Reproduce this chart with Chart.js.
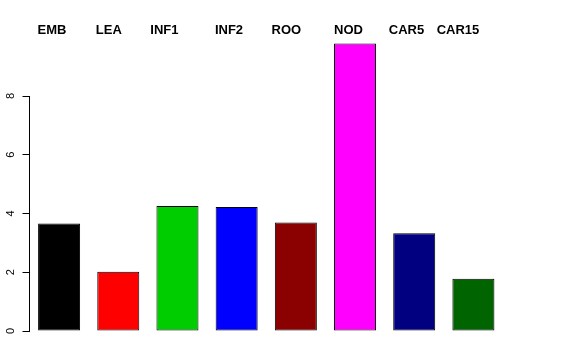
<!DOCTYPE html>
<html>
<head>
<meta charset="utf-8">
<script src="https://cdn.jsdelivr.net/npm/chart.js@4"></script>
<style>
  html, body { margin: 0; padding: 0; background: #fff; }
  #wrap { width: 576px; height: 360px; }
</style>
</head>
<body>
<div id="wrap"><canvas id="grafico"></canvas></div>
<script>
const categorias = ['EMB', 'LEA', 'INF1', 'INF2', 'ROO', 'NOD', 'CAR5', 'CAR15']
const valores = [3.66, 2.02, 4.26, 4.22, 3.69, 9.79, 3.33, 1.78]
const cores = ['#000000', '#FF0000', '#00CD00', '#0000FF', '#8B0000', '#FF00FF', '#000080', '#006400']
const ticksY = [0, 2, 4, 6, 8]
// where the names sit along the x axis, in category units
const posNomes = [-0.12, 0.84, 1.78, 2.87, 3.84, 4.89, 5.87, 6.74]

// axis line only from 0 to 8, like R does
const linhaEixo = {
  id: 'linhaEixo',
  afterDraw(chart) {
    const y = chart.scales.y
    const x = chart.chartArea.left
    const ctx = chart.ctx
    ctx.save()
    ctx.strokeStyle = '#000'
    ctx.lineWidth = 1
    ctx.beginPath()
    ctx.moveTo(x, y.getPixelForValue(ticksY[0]))
    ctx.lineTo(x, y.getPixelForValue(ticksY[ticksY.length - 1]))
    ctx.stroke()
    ctx.restore()
  }
}

const grafico = new Chart(document.getElementById('grafico'), {
  type: 'bar',
  data: {
    labels: categorias,
    datasets: [{
      data: valores,
      backgroundColor: cores,
      borderColor: '#000',
      borderWidth: 1,
      borderSkipped: false,
      barPercentage: 0.71,
      categoryPercentage: 1
    }]
  },
  options: {
    responsive: true,
    maintainAspectRatio: false,
    animation: false,
    layout: { padding: { top: 0, right: 73, bottom: 29, left: 0 } },
    plugins: { legend: { display: false }, tooltip: { enabled: false } },
    scales: {
      x: { display: false },
      x2: {
        type: 'linear',
        position: 'top',
        min: -0.5,
        max: 7.5,
        offset: false,
        grid: { display: false, offset: false },
        border: { display: false },
        afterBuildTicks: (s) => { s.ticks = posNomes.map(v => ({ value: v })) },
        afterFit: (s) => { s.height = 37.3; s.paddingLeft = 0; s.paddingRight = 0 },
        ticks: {
          autoSkip: false,
          maxRotation: 0,
          padding: -9,
          color: '#000',
          font: { family: '"Liberation Sans", Arial, Helvetica, sans-serif', size: 13, weight: 'bold' },
          callback: (v, i) => categorias[i]
        }
      },
      y: {
        min: 0,
        max: 10,
        border: { display: false },
        grid: { drawOnChartArea: false, drawTicks: true, tickLength: 7, color: '#000' },
        afterBuildTicks: (s) => { s.ticks = ticksY.map(v => ({ value: v })) },
        afterFit: (s) => { s.width = 29.5 },
        ticks: {
          minRotation: 90,
          maxRotation: 90,
          crossAlign: 'center',
          padding: 8,
          color: '#000',
          font: { family: '"Liberation Sans", Arial, Helvetica, sans-serif', size: 11 }
        }
      }
    }
  },
  plugins: [linhaEixo]
})
</script>
</body>
</html>
